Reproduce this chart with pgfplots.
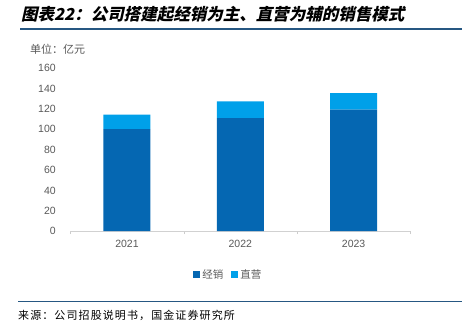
\documentclass[border=0pt]{standalone}
\usepackage{pgfplots}
\pgfplotsset{compat=1.18}
\usepackage{fontspec}
\setmainfont{Liberation Sans}
\newfontfamily\cjk{Noto Sans CJK SC}
\newfontfamily\cjksrc{Noto Sans CJK SC}[LetterSpace=10]
\newfontfamily\cjktitle{Noto Sans CJK SC}[FakeSlant=0.22]
\definecolor{darkbar}{RGB}{5,103,178}
\definecolor{lightbar}{RGB}{0,160,233}
\definecolor{txtgray}{RGB}{89,89,89}
\definecolor{rulecol}{RGB}{38,87,130}
\pgfplotstableread{
x dist direct
0 100.2 14.2
1 111.0 16.5
2 119.3 16.3
}\salesdata
\begin{document}
\begin{tikzpicture}[x=1pt,y=1pt]
\useasboundingbox (0,0) rectangle (462,328);
% title
\node[anchor=west,inner sep=0pt] at (21,314) {\fontsize{16.5}{16.5}\selectfont\cjktitle\bfseries 图表22：公司搭建起经销为主、直营为辅的销售模式};
\draw[rulecol,line width=1.3pt] (20,299) -- (462,299);
% unit
\node[anchor=west,inner sep=0pt,text=txtgray] at (30,279) {\fontsize{11}{11}\selectfont\cjk 单位：亿元};
\begin{axis}[
  at={(62,95)}, anchor=south west,
  scale only axis, width=340pt, height=163pt,
  ybar stacked, bar width=47pt,
  xmin=-0.5, xmax=2.5, ymin=0, ymax=160,
  ytick={0,20,...,160},
  xtick={0,1,2}, xticklabels={2021,2022,2023},
  minor xtick={-0.5,0.5,1.5,2.5},
  major tick length=0pt, minor tick length=3pt,
  tick align=outside,
  minor tick style={draw=black!20},
  axis x line*=bottom, axis y line*=left,
  y axis line style={draw=none},
  x axis line style={draw=black!18, line width=0.8pt, -},
  ticklabel style={font=\fontsize{10.5}{10.5}\selectfont, text=txtgray},
  /pgf/number format/assume math mode=true,
  yticklabel style={xshift=-11pt},
  xticklabel style={yshift=-5pt},
  legend style={at={(0.465,-0.265)}, anchor=center, draw=none, fill=none,
    font=\fontsize{10.5}{10.5}\selectfont\cjk, text=txtgray,
    /tikz/every even column/.append style={column sep=6pt}},
  legend columns=2,
  legend image code/.code={\fill (0pt,-3.5pt) rectangle (7pt,3.5pt);},
  clip=false,
]
\addplot[fill=darkbar, draw=none] table[x=x,y=dist] {\salesdata};
\addplot[fill=lightbar, draw=none] table[x=x,y=direct] {\salesdata};
\legend{经销,直营}
\end{axis}
% footer
\draw[rulecol,line width=1pt] (18,26) -- (462,26);
\node[anchor=west,inner sep=0pt] at (18,13) {\fontsize{11}{11}\selectfont\cjksrc 来源：公司招股说明书，国金证券研究所};
\end{tikzpicture}
\end{document}
